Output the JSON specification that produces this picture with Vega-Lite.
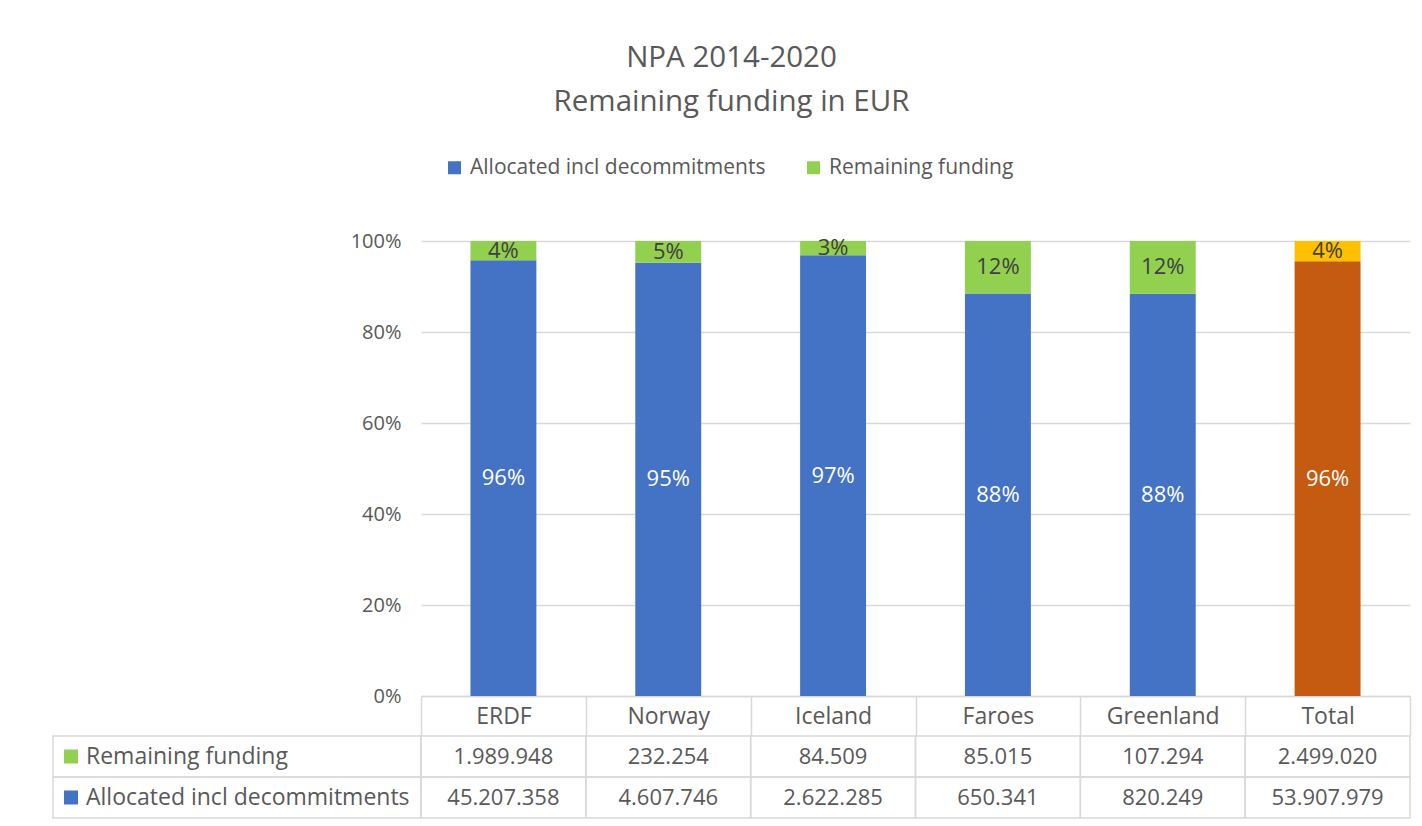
{
  "$schema": "https://vega.github.io/schema/vega-lite/v6.json",
  "background": "white",
  "padding": {"left": 52, "top": 42, "right": 13, "bottom": 9},
  "title": {
    "text": ["NPA 2014-2020", "Remaining funding in EUR"],
    "fontSize": 29.5,
    "font": "Open Sans",
    "fontWeight": "normal",
    "color": "#595959",
    "lineHeight": 44,
    "offset": 40,
    "anchor": "middle"
  },
  "datasets": {
    "main": [
      {"country": "ERDF", "series": "Allocated incl decommitments", "amount": 45207358, "pct": 0.96},
      {"country": "ERDF", "series": "Remaining funding", "amount": 1989948, "pct": 0.04},
      {"country": "Norway", "series": "Allocated incl decommitments", "amount": 4607746, "pct": 0.95},
      {"country": "Norway", "series": "Remaining funding", "amount": 232254, "pct": 0.05},
      {"country": "Iceland", "series": "Allocated incl decommitments", "amount": 2622285, "pct": 0.97},
      {"country": "Iceland", "series": "Remaining funding", "amount": 84509, "pct": 0.03},
      {"country": "Faroes", "series": "Allocated incl decommitments", "amount": 650341, "pct": 0.88},
      {"country": "Faroes", "series": "Remaining funding", "amount": 85015, "pct": 0.12},
      {"country": "Greenland", "series": "Allocated incl decommitments", "amount": 820249, "pct": 0.88},
      {"country": "Greenland", "series": "Remaining funding", "amount": 107294, "pct": 0.12},
      {"country": "Total", "series": "Allocated incl decommitments", "amount": 53907979, "pct": 0.96},
      {"country": "Total", "series": "Remaining funding", "amount": 2499020, "pct": 0.04}
    ]
  },
  "columns": 2,
  "spacing": {"row": 40, "column": 0},
  "bounds": "flush",
  "align": "each",
  "resolve": {"scale": {"x": "independent", "y": "independent", "color": "shared"}},
  "concat": [
    {
      "width": 368,
      "height": 455,
      "data": {"values": []},
      "mark": {"type": "point", "opacity": 0},
      "encoding": {}
    },
    {
      "width": 989,
      "height": 455,
      "data": {"name": "main"},
      "encoding": {
        "x": {
          "field": "country",
          "type": "nominal",
          "sort": ["ERDF", "Norway", "Iceland", "Faroes", "Greenland", "Total"],
          "scale": {"paddingInner": 0, "paddingOuter": 0},
          "axis": {
            "title": null,
            "orient": "bottom",
            "tickBand": "extent",
            "tickSize": 40,
            "tickColor": "#D9D9D9",
            "tickWidth": 1.5,
            "domainColor": "#D9D9D9",
            "domainWidth": 1.5,
            "labelAngle": 0,
            "labelBaseline": "middle",
            "labelPadding": -20,
            "labelFontSize": 23,
            "labelFont": "Open Sans",
            "labelColor": "#595959",
            "grid": false
          }
        },
        "order": {"field": "series", "type": "nominal", "sort": "ascending"}
      },
      "layer": [
        {
          "mark": {"type": "bar", "width": {"band": 0.4}},
          "encoding": {
            "y": {
              "field": "amount",
              "type": "quantitative",
              "stack": "normalize",
              "scale": {"domain": [0, 1]},
              "axis": {
                "title": null,
                "format": ".0%",
                "values": [0, 0.2, 0.4, 0.6, 0.8, 1],
                "grid": true,
                "gridColor": "#D9D9D9",
                "gridWidth": 1.5,
                "domain": false,
                "ticks": false,
                "labelPadding": 20,
                "labelFontSize": 20,
                "labelFont": "Open Sans",
                "labelColor": "#595959"
              }
            },
            "color": {
              "field": "series",
              "type": "nominal",
              "scale": {
                "domain": ["Allocated incl decommitments", "Remaining funding"],
                "range": ["#4472C4", "#92D050"]
              },
              "legend": {
                "orient": "none",
                "legendX": 391,
                "legendY": -84,
                "direction": "horizontal",
                "title": null,
                "symbolType": "square",
                "symbolSize": 169,
                "symbolStrokeWidth": 0,
                "symbolOpacity": 1,
                "labelFontSize": 21,
                "labelFont": "Open Sans",
                "labelColor": "#595959",
                "labelLimit": 0,
                "labelOffset": 5,
                "columnPadding": 37
              },
              "condition": [
                {"test": "datum.country === 'Total' && datum.series === 'Allocated incl decommitments'", "value": "#C55A11"},
                {"test": "datum.country === 'Total'", "value": "#FFC000"}
              ]
            }
          }
        },
        {
          "mark": {"type": "text", "fontSize": 22, "font": "Open Sans"},
          "encoding": {
            "y": {"field": "amount", "type": "quantitative", "stack": "normalize", "bandPosition": 0.5},
            "detail": {"field": "series", "type": "nominal"},
            "text": {"field": "pct", "type": "quantitative", "format": ".0%"},
            "color": {
              "condition": {"test": "datum.series === 'Allocated incl decommitments'", "value": "#FFFFFF"},
              "value": "#404040"
            }
          }
        }
      ]
    },
    {
      "width": 368,
      "height": 82,
      "data": {"name": "main"},
      "transform": [{"filter": "datum.country === 'Total'"}],
      "encoding": {
        "y": {
          "field": "series",
          "type": "nominal",
          "sort": ["Remaining funding", "Allocated incl decommitments"],
          "scale": {"paddingInner": 0, "paddingOuter": 0},
          "axis": null
        }
      },
      "layer": [
        {"mark": {"type": "rect", "fillOpacity": 0, "fill": "white", "stroke": "#D9D9D9", "strokeWidth": 1.5}},
        {
          "mark": {"type": "square", "size": 196, "opacity": 1, "xOffset": -166},
          "encoding": {"color": {"field": "series", "type": "nominal"}}
        },
        {
          "mark": {"type": "text", "align": "left", "dx": -151, "fontSize": 23, "font": "Open Sans", "color": "#595959"},
          "encoding": {"text": {"field": "series", "type": "nominal"}}
        }
      ]
    },
    {
      "width": 989,
      "height": 82,
      "data": {"name": "main"},
      "encoding": {
        "x": {
          "field": "country",
          "type": "nominal",
          "sort": ["ERDF", "Norway", "Iceland", "Faroes", "Greenland", "Total"],
          "scale": {"paddingInner": 0, "paddingOuter": 0},
          "axis": null
        },
        "y": {
          "field": "series",
          "type": "nominal",
          "sort": ["Remaining funding", "Allocated incl decommitments"],
          "scale": {"paddingInner": 0, "paddingOuter": 0},
          "axis": null
        }
      },
      "layer": [
        {"mark": {"type": "rect", "fillOpacity": 0, "fill": "white", "stroke": "#D9D9D9", "strokeWidth": 1.5}},
        {
          "mark": {"type": "text", "fontSize": 22, "font": "Open Sans", "color": "#595959"},
          "encoding": {"text": {"field": "amount", "type": "quantitative", "format": ",.0f"}}
        }
      ]
    }
  ],
  "config": {
    "view": {"stroke": null},
    "font": "Open Sans",
    "locale": {
      "number": {"decimal": ",", "thousands": ".", "grouping": [3], "currency": ["", " €"]}
    }
  }
}
